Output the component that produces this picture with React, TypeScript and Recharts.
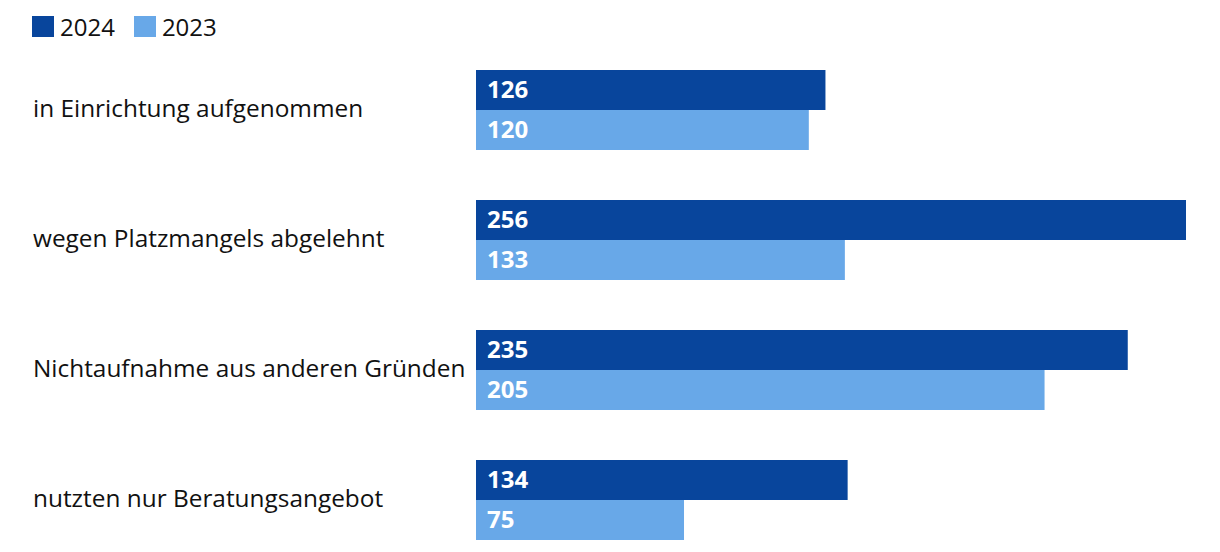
import React from "react";
import { BarChart, Bar, XAxis, YAxis, LabelList } from "recharts";

const categories = [
  "in Einrichtung aufgenommen",
  "wegen Platzmangels abgelehnt",
  "Nichtaufnahme aus anderen Gründen",
  "nutzten nur Beratungsangebot",
];
const values2024 = [126, 256, 235, 134];
const values2023 = [120, 133, 205, 75];
const seriesNames = ["2024", "2023"];
const colors = ["#08459c", "#68a8e8"];

const data = categories.map((label, i) => ({
  label,
  v2024: values2024[i],
  v2023: values2023[i],
}));

const maxValue = Math.max(...values2024, ...values2023);
const font = "'Open Sans', 'Noto Sans', sans-serif";

function CategoryTick({ y, payload }: any) {
  return (
    <text x={33} y={y - 3} dominantBaseline="central" textAnchor="start" fontSize={24.4} fill="#111" fontFamily={font}>
      {payload.value}
    </text>
  );
}

export default function App() {
  return (
    <div style={{ position: "absolute", left: 0, top: 0, width: 1220, height: 552, overflow: "hidden", background: "#fff", fontFamily: font }}>
      <div style={{ position: "absolute", left: 32, top: 10, display: "flex", alignItems: "center", fontSize: 24, color: "#111" }}>
        {seriesNames.map((name, i) => (
          <div key={name} style={{ display: "flex", alignItems: "center", marginRight: 19 }}>
            <span style={{ display: "inline-block", width: 22, height: 21, background: colors[i], marginRight: 6 }} />
            <span>{name}</span>
          </div>
        ))}
      </div>
      <BarChart
        width={1220}
        height={565}
        data={data}
        layout="vertical"
        margin={{ top: 45, right: 34, bottom: 0, left: 0 }}
        barGap={0}
        style={{ position: "absolute", left: 0, top: 0 }}
      >
        <XAxis type="number" domain={[0, maxValue]} hide />
        <YAxis type="category" dataKey="label" width={476} axisLine={false} tickLine={false} tick={<CategoryTick />} />
        <Bar dataKey="v2024" name={seriesNames[0]} fill={colors[0]} barSize={40} isAnimationActive={false}>
          <LabelList dataKey="v2024" position="insideLeft" offset={11} fill="#fff" fontSize={24} fontWeight="bold" fontFamily={font} dy={-1} />
        </Bar>
        <Bar dataKey="v2023" name={seriesNames[1]} fill={colors[1]} barSize={40} isAnimationActive={false}>
          <LabelList dataKey="v2023" position="insideLeft" offset={11} fill="#fff" fontSize={24} fontWeight="bold" fontFamily={font} dy={-1} />
        </Bar>
      </BarChart>
    </div>
  );
}
